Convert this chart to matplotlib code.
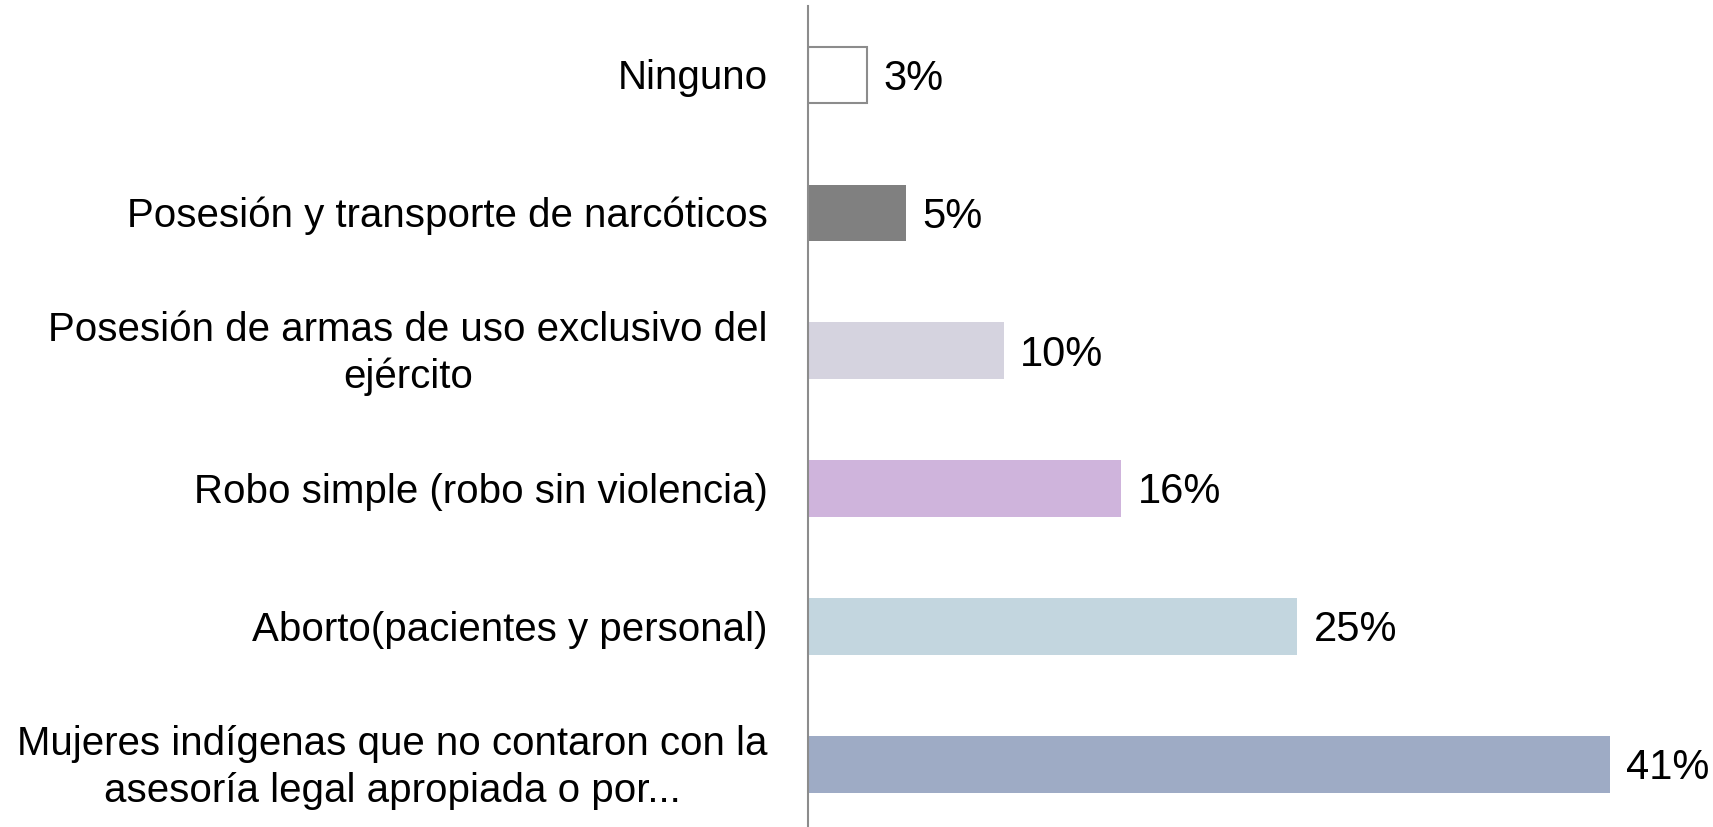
import matplotlib
matplotlib.use("Agg")
import matplotlib.pyplot as plt

# Data (top to bottom as in the chart)
categories = [
    "Ninguno",
    "Posesión y transporte de narcóticos",
    "Posesión de armas de uso exclusivo del\nejército",
    "Robo simple (robo sin violencia)",
    "Aborto(pacientes y personal)",
    "Mujeres indígenas que no contaron con la\nasesoría legal apropiada o por...",
]
values = [3, 5, 10, 16, 25, 41]
bar_colors = ["#ffffff", "#808080", "#d5d3df", "#cfb4dc", "#c3d6df", "#9eabc5"]
edge_colors = ["#8c8c8c", "none", "none", "none", "none", "none"]

plt.rcParams['font.family'] = ['Liberation Sans', 'DejaVu Sans']

W, H = 1713, 828
fig = plt.figure(figsize=(W / 100, H / 100), dpi=100)

# axes placed so the category axis line sits at x=808px
left = 808 / W
top_px = 7
ax = fig.add_axes([left, 0, 1 - left, 1 - top_px / H])

n = len(categories)
ypos = [n - 1 - i for i in range(n)]
ax.barh(ypos, values, height=0.41, color=bar_colors, edgecolor=edge_colors, linewidth=1.5)

ax.set_xlim(0, 905 / 19.55)
ax.set_ylim(5.5 - (H - top_px) / 137.9, 5.5)

for y, v in zip(ypos, values):
    ax.annotate(f"{v}%", (v, y), xytext=(12, -2), textcoords="offset points",
                va="center", ha="left", fontsize=30, color="#000000")

for y, lab in zip(ypos, categories):
    ax.annotate(lab, (0, y), xytext=(-29, -1.5), textcoords="offset points",
                va="center", ha="right", multialignment="center",
                fontsize=29, color="#000000", linespacing=1.28)

for s in ["top", "right", "bottom"]:
    ax.spines[s].set_visible(False)
ax.spines["left"].set_color("#8c8c8c")
ax.spines["left"].set_linewidth(1.5)
ax.set_xticks([])
ax.set_yticks([])
ax.patch.set_alpha(0)

fig.savefig("out.png", dpi=100, facecolor="white")
